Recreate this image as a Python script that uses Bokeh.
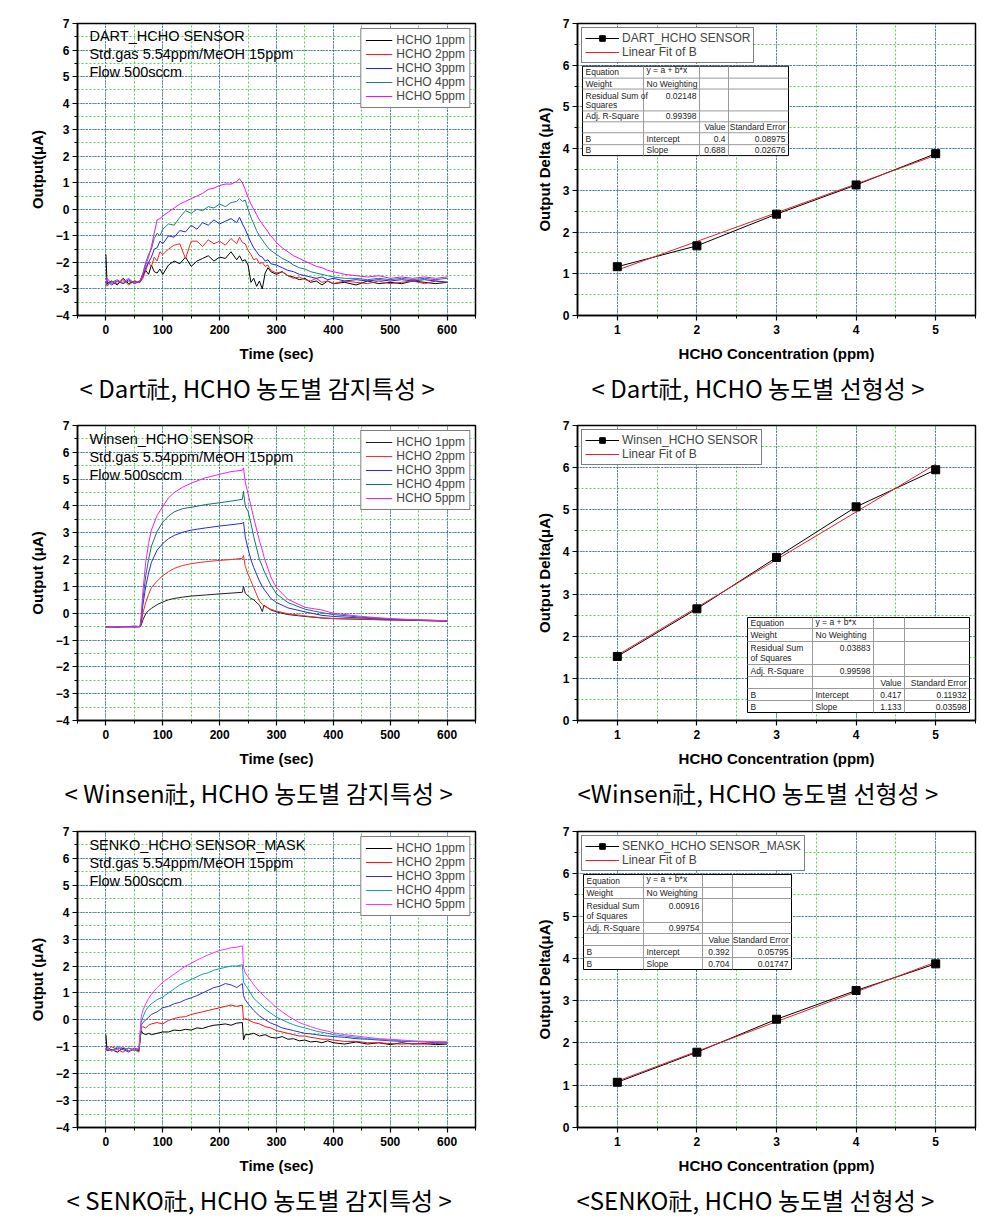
from bokeh.plotting import figure
from bokeh.models import Range1d, SingleIntervalTicker, Legend, LegendItem, Title, Label
from bokeh.layouts import row, column
from bokeh.embed import file_html
from bokeh.resources import INLINE
from bokeh.core.properties import value

# ----------------------------- data -----------------------------
series_labels = ["HCHO 1ppm", "HCHO 2ppm", "HCHO 3ppm", "HCHO 4ppm", "HCHO 5ppm"]

dart_t = [0, 2, 10, 20, 30, 40, 50, 60, 65, 70, 75, 80, 85, 90, 95, 100,
          110, 120, 130, 140, 150, 160, 170, 180, 190, 200, 210, 220, 230,
          235, 240, 245, 250, 255, 260, 265, 270, 275, 280, 285, 290,
          300, 310, 320, 330, 340, 350, 360, 370, 380, 390, 400,
          420, 440, 460, 480, 500, 520, 540, 560, 580, 600]
dart_1ppm = [-1.7, -2.8, -2.7, -2.85, -2.6, -2.8, -2.7, -2.75,
             -2.5, -2.3, -2.45, -2.1, -2.35, -2.4, -2.25, -2.45,
             -2.1, -1.95, -2.05, -1.8, -2.15, -1.95, -1.85, -1.75, -1.95, -1.8, -1.85, -1.6, -1.9,
             -1.75, -1.95, -1.9, -2.1, -2.75, -2.6, -2.9, -2.7, -3.0, -2.4, -2.2, -2.35,
             -2.45, -2.35, -2.5, -2.55, -2.65, -2.6, -2.75, -2.7, -2.85, -2.7, -2.8,
             -2.75, -2.85, -2.7, -2.8, -2.75, -2.8, -2.7, -2.75, -2.8, -2.75]
dart_2ppm = [-2.75, -2.9, -2.7, -2.8, -2.65, -2.85, -2.7, -2.75,
             -2.6, -2.3, -2.0, -2.15, -1.8, -1.95, -1.6, -1.7,
             -1.5, -1.35, -1.3, -1.85, -1.2, -1.2, -1.4, -1.15, -1.3, -1.2, -1.35, -1.1, -1.3,
             -1.05, -1.25, -1.3, -1.55, -1.7, -1.9, -1.85, -2.05, -2.0, -2.15, -2.1, -2.3,
             -2.4, -2.35, -2.5, -2.6, -2.55, -2.65, -2.7, -2.6, -2.75, -2.7, -2.8,
             -2.7, -2.75, -2.8, -2.7, -2.8, -2.75, -2.7, -2.8, -2.7, -2.75]
dart_3ppm = [-2.8, -2.7, -2.85, -2.7, -2.8, -2.65, -2.8, -2.7,
             -2.5, -2.2, -2.0, -1.8, -1.5, -1.45, -1.2, -1.3,
             -1.0, -1.05, -0.8, -0.85, -0.6, -0.75, -0.5, -0.6, -0.4, -0.55, -0.45, -0.35, -0.5,
             -0.3, -0.55, -0.75, -1.0, -1.25, -1.45, -1.6, -1.75, -1.8, -1.95, -1.9, -2.05,
             -2.1, -2.2, -2.3, -2.35, -2.45, -2.5, -2.55, -2.6, -2.55, -2.65, -2.6,
             -2.7, -2.65, -2.7, -2.65, -2.7, -2.65, -2.7, -2.65, -2.7, -2.75]
dart_4ppm = [-2.7, -2.85, -2.75, -2.65, -2.8, -2.7, -2.75, -2.7,
             -2.4, -2.0, -1.7, -1.5, -1.1, -0.9, -1.0, -0.75,
             -0.55, -0.6, -0.3, -0.05, -0.15, 0.0, -0.05, 0.1, 0.05, 0.2, 0.1, 0.25, 0.3,
             0.4, 0.3, 0.35, 0.0, -0.3, -0.55, -0.8, -1.0, -1.15, -1.3, -1.45, -1.55,
             -1.7, -1.85, -1.95, -2.1, -2.2, -2.25, -2.35, -2.4, -2.45, -2.5, -2.55,
             -2.6, -2.6, -2.65, -2.6, -2.65, -2.6, -2.65, -2.6, -2.65, -2.6]
dart_5ppm = [-2.75, -2.6, -2.8, -2.7, -2.75, -2.6, -2.8, -2.7,
             -2.45, -2.1, -1.8, -1.4, -0.9, -0.4, -0.35, -0.25,
             -0.1, 0.05, 0.2, 0.3, 0.4, 0.5, 0.6, 0.75, 0.8, 0.9, 0.95, 0.95, 1.05,
             1.15, 1.0, 0.75, 0.45, 0.2, 0.0, -0.2, -0.4, -0.55, -0.7, -0.85, -1.0,
             -1.25, -1.45, -1.6, -1.75, -1.85, -1.95, -2.05, -2.15, -2.2, -2.3, -2.35,
             -2.45, -2.5, -2.55, -2.5, -2.6, -2.55, -2.6, -2.55, -2.6, -2.55]

winsen_t = [0, 5, 10, 20, 30, 40, 50, 60,
            62, 65, 70, 75, 80, 90, 100, 110, 120, 135, 150, 175, 200, 220, 240,
            242, 245, 250, 255, 260, 270, 275, 278, 290, 300,
            320, 350, 380, 400, 450, 500, 550, 600]
winsen_1ppm = [-0.5, -0.52, -0.5, -0.52, -0.5, -0.5, -0.48, -0.5,
               -0.45, -0.25, -0.02, 0.1, 0.18, 0.32, 0.42, 0.5, 0.55, 0.6, 0.64, 0.68, 0.72, 0.75, 0.78,
               1.0, 0.75, 0.65, 0.55, 0.5, 0.3, 0.06, 0.3, 0.12, 0.05,
               -0.05, -0.12, -0.18, -0.2, -0.23, -0.25, -0.27, -0.3]
winsen_2ppm = [-0.52, -0.5, -0.5, -0.5, -0.52, -0.5, -0.5, -0.5,
               -0.4, 0.0, 0.4, 0.7, 0.95, 1.2, 1.4, 1.55, 1.67, 1.78, 1.85, 1.92, 1.97, 2.0, 2.05,
               2.15, 1.75, 1.45, 1.2, 0.95, 0.45, 0.33, 0.27, 0.15, 0.08,
               -0.02, -0.1, -0.17, -0.2, -0.22, -0.25, -0.27, -0.3]
winsen_3ppm = [-0.5, -0.5, -0.52, -0.5, -0.5, -0.5, -0.52, -0.5,
               -0.3, 0.3, 1.0, 1.5, 1.9, 2.35, 2.6, 2.78, 2.9, 3.02, 3.1, 3.18, 3.25, 3.3, 3.35,
               3.4, 2.85, 2.4, 2.0, 1.7, 1.2, 1.0, 0.9, 0.55, 0.4,
               0.2, 0.05, -0.08, -0.12, -0.18, -0.23, -0.26, -0.28]
winsen_4ppm = [-0.5, -0.5, -0.5, -0.52, -0.5, -0.5, -0.5, -0.5,
               -0.2, 0.5, 1.4, 2.0, 2.5, 3.05, 3.4, 3.62, 3.78, 3.9, 3.95, 4.05, 4.12, 4.18, 4.25,
               4.55, 4.0, 3.8, 3.35, 2.85, 2.0, 1.75, 1.58, 1.05, 0.72,
               0.4, 0.15, 0.02, -0.05, -0.15, -0.22, -0.25, -0.28]
winsen_5ppm = [-0.52, -0.5, -0.5, -0.5, -0.5, -0.52, -0.5, -0.5,
               -0.1, 0.8, 1.9, 2.6, 3.1, 3.65, 3.98, 4.3, 4.5, 4.7, 4.85, 5.05, 5.18, 5.28, 5.33,
               5.42, 4.9, 4.45, 4.0, 3.55, 2.7, 2.35, 2.1, 1.35, 0.95,
               0.52, 0.22, 0.12, 0.0, -0.12, -0.2, -0.25, -0.28]

senko_t = [0, 2, 10, 20, 30, 40, 50, 58,
           62, 65, 70, 75, 80,
           90, 100, 110, 120, 130, 140, 150, 160, 170, 180, 190, 200, 210, 220, 230, 240,
           242, 245, 250,
           260, 270, 280, 290, 300, 310, 320, 330, 340, 350, 360, 370, 380, 390, 400,
           420, 440, 460, 480, 500, 520, 540, 560, 580, 600]
senko_1ppm = [-0.55, -1.15, -1.1, -1.2, -1.05, -1.15, -1.1, -1.15,
              -0.4, -0.5, -0.55, -0.5, -0.55,
              -0.5, -0.45, -0.45, -0.38, -0.4, -0.35, -0.38, -0.3, -0.32, -0.25, -0.2, -0.18, -0.15, -0.2, -0.12, -0.1,
              -0.75, -0.55, -0.55,
              -0.5, -0.6, -0.55, -0.65, -0.68, -0.62, -0.72, -0.7, -0.78, -0.75, -0.82, -0.8, -0.85, -0.78, -0.85,
              -0.9, -0.82, -0.9, -0.85, -0.92, -0.85, -0.9, -0.88, -0.92, -0.9]
senko_2ppm = [-1.05, -1.15, -1.0, -1.1, -1.2, -1.05, -1.1, -1.2,
              -0.3, -0.25, -0.3, -0.2, -0.15,
              -0.1, -0.15, -0.02, 0.05, 0.1, 0.12, 0.2, 0.25, 0.3, 0.35, 0.4, 0.45, 0.5, 0.55, 0.5, 0.55,
              0.0, 0.05, 0.0,
              -0.1, -0.15, -0.25, -0.3, -0.4, -0.45, -0.5, -0.55, -0.6, -0.6, -0.65, -0.68, -0.72, -0.72, -0.75,
              -0.8, -0.8, -0.85, -0.85, -0.88, -0.9, -0.88, -0.9, -0.88, -0.85]
senko_3ppm = [-1.1, -1.0, -1.15, -1.05, -1.1, -1.2, -1.05, -1.1,
              -0.2, -0.1, 0.0, 0.1, 0.2,
              0.3, 0.45, 0.5, 0.6, 0.65, 0.75, 0.82, 0.9, 1.0, 1.1, 1.2, 1.25, 1.35, 1.3, 1.2, 1.35,
              0.9, 0.75, 0.6,
              0.35, 0.15, 0.0, -0.12, -0.2, -0.3, -0.35, -0.4, -0.45, -0.5, -0.52, -0.55, -0.58, -0.6, -0.62,
              -0.65, -0.7, -0.72, -0.75, -0.78, -0.8, -0.8, -0.82, -0.85, -0.85]
senko_4ppm = [-1.05, -1.1, -1.15, -1.0, -1.1, -1.05, -1.15, -1.1,
              -0.1, 0.1, 0.35, 0.5, 0.6,
              0.75, 0.85, 1.0, 1.15, 1.3, 1.4, 1.5, 1.6, 1.7, 1.75, 1.85, 1.9, 1.95, 2.0, 2.0, 2.05,
              1.4, 1.3, 1.15,
              0.8, 0.6, 0.4, 0.25, 0.1, 0.0, -0.1, -0.18, -0.25, -0.3, -0.36, -0.42, -0.46, -0.5, -0.55,
              -0.6, -0.65, -0.7, -0.72, -0.75, -0.78, -0.8, -0.8, -0.82, -0.82]
senko_5ppm = [-1.1, -1.05, -1.15, -1.1, -1.0, -1.15, -1.1, -1.05,
              0.1, 0.35, 0.6, 0.8, 0.95,
              1.2, 1.4, 1.55, 1.7, 1.85, 2.0, 2.1, 2.22, 2.32, 2.42, 2.5, 2.58, 2.62, 2.68, 2.7, 2.75,
              1.95, 1.75, 1.6,
              1.3, 1.05, 0.85, 0.65, 0.45, 0.3, 0.15, 0.02, -0.1, -0.18, -0.25, -0.32, -0.38, -0.42, -0.48,
              -0.55, -0.6, -0.65, -0.7, -0.72, -0.75, -0.78, -0.8, -0.8, -0.82]

conc = [1, 2, 3, 4, 5]
dart_delta = [1.17, 1.67, 2.43, 3.13, 3.88]
winsen_delta = [1.52, 2.65, 3.87, 5.07, 5.95]
senko_delta = [1.07, 1.78, 2.56, 3.24, 3.87]

dart_intercept, dart_slope = 0.4, 0.688
winsen_intercept, winsen_slope = 0.417, 1.133
senko_intercept, senko_slope = 0.392, 0.704

# fit statistics: RSS, Adj R-Square, intercept, intercept SE, slope, slope SE
dart_stats = ["0.02148", "0.99398", "0.4", "0.08975", "0.688", "0.02676"]
winsen_stats = ["0.03883", "0.99598", "0.417", "0.11932", "1.133", "0.03598"]
senko_stats = ["0.00916", "0.99754", "0.392", "0.05795", "0.704", "0.01747"]

captions = ["< Dart社, HCHO 농도별 감지특성 >", "< Dart社, HCHO 농도별 선형성 >",
            "< Winsen社, HCHO 농도별 감지특성 >", "<Winsen社, HCHO 농도별 선형성 >",
            "< SENKO社, HCHO 농도별 감지특성 >", "<SENKO社, HCHO 농도별 선형성 >"]

# ----------------------------- layout constants -----------------------------
W = 499
FW = 398
ROW_H = [411, 407, 407]
ROW_TOP = [23, 14, 13]
ROW_FH = [294, 295, 296]
FONT = "Liberation Sans"
CAP_FONT = "Noto Sans CJK KR"


def base_figure(xr, yr, ri, left_border, xint, yint):
    fh = ROW_FH[ri]
    top = ROW_TOP[ri]
    h = ROW_H[ri]
    p = figure(width=W, height=h, x_range=Range1d(*xr), y_range=Range1d(*yr),
               output_backend="svg", toolbar_location=None,
               min_border_left=left_border, min_border_right=W - left_border - FW,
               min_border_top=top, min_border_bottom=h - top - fh)
    xt = SingleIntervalTicker(interval=xint, num_minor_ticks=2)
    yt = SingleIntervalTicker(interval=yint, num_minor_ticks=2)
    p.xaxis.ticker = xt
    p.yaxis.ticker = yt
    p.xgrid.ticker = xt
    p.ygrid.ticker = yt
    for g in (p.xgrid, p.ygrid):
        g.grid_line_color = "#2020c8"
        g.grid_line_dash = "1 2"
        g.grid_line_width = 1
        g.minor_grid_line_color = "#5ad25a"
        g.minor_grid_line_dash = "2 2"
        g.minor_grid_line_width = 1
    p.outline_line_color = "black"
    p.outline_line_width = 1.5
    p.background_fill_color = "white"
    p.border_fill_color = "white"
    for ax in (p.xaxis, p.yaxis):
        ax.axis_line_width = 1.5
        ax.axis_line_color = "black"
        ax.major_tick_out = 5
        ax.major_tick_in = 0
        ax.minor_tick_out = 3
        ax.minor_tick_in = 0
        ax.major_tick_line_width = 1.2
        ax.major_label_text_font = FONT
        ax.major_label_text_font_style = "bold"
        ax.major_label_text_font_size = "12px"
        ax.major_label_text_color = "black"
        ax.axis_label_text_font = FONT
        ax.axis_label_text_font_style = "bold"
        ax.axis_label_text_font_size = "15px"
        ax.axis_label_text_color = "black"
    p.xaxis.major_label_standoff = 4
    p.xaxis.axis_label_standoff = 8
    p.yaxis.major_label_standoff = 3
    p.yaxis.axis_label_standoff = 7
    return p


def add_caption(p, text, offset):
    p.add_layout(Title(text=text, align="left", offset=offset, vertical_align="top",
                       text_font=CAP_FONT, text_font_size="24px",
                       text_font_style="normal", text_color="black", standoff=10), "below")


def time_panel(ri, t, ys, colors, notes, ylabel, caption, cap_offset):
    p = base_figure((-50, 650), (-4, 7), ri, 77, 100, 1)
    p.xaxis.axis_label = "Time (sec)"
    p.yaxis.axis_label = ylabel
    items = []
    for y, c, lab in zip(ys, colors, series_labels):
        r = p.line(t, y, line_color=c, line_width=1)
        items.append(LegendItem(label=lab, renderers=[r]))
    leg = Legend(items=items, location="top_right", margin=5, padding=4, spacing=0,
                 label_text_font=FONT, label_text_font_size="12px", label_height=14,
                 glyph_height=14, glyph_width=27, label_standoff=4,
                 border_line_color="black", border_line_width=1,
                 background_fill_color="white", background_fill_alpha=1.0)
    p.add_layout(leg)
    fh = ROW_FH[ri]
    for i, line in enumerate(notes):
        py = 13 + 18 * i
        yv = 7 - py / fh * 11
        p.add_layout(Label(x=-29, y=yv, text=line, text_font=FONT, text_font_size="14.5px",
                           text_baseline="middle", text_color="black"))
    add_caption(p, caption, cap_offset)
    return p


def draw_table(p, ri, cols, rows, stats, rss_lines):
    fh = ROW_FH[ri]
    x0, x1 = p.x_range.start, p.x_range.end
    y0, y1 = p.y_range.start, p.y_range.end
    X = lambda px: x0 + px / FW * (x1 - x0)
    Y = lambda py: y1 - py / fh * (y1 - y0)
    p.quad(left=[X(cols[0])], right=[X(cols[-1])], top=[Y(rows[0])], bottom=[Y(rows[-1])],
           fill_color="white", line_color="black", line_width=1)
    hx0, hx1, hy = [], [], []
    for r in rows[1:-1]:
        hx0.append(X(cols[0])); hx1.append(X(cols[-1])); hy.append(Y(r))
    p.segment(x0=hx0, y0=hy, x1=hx1, y1=hy, line_color="#9a9a9a", line_width=1)
    vx = [X(c) for c in cols[1:-1]]
    p.segment(x0=vx, y0=[Y(rows[0])] * 3, x1=vx, y1=[Y(rows[-1])] * 3,
              line_color="#9a9a9a", line_width=1)
    mid = lambda i: Y((rows[i] + rows[i + 1]) / 2)
    lx, ly, lt = [], [], []
    rx, ry, rt = [], [], []

    def L(col, yv, txt):
        lx.append(X(cols[col] + 3)); ly.append(yv); lt.append(txt)

    def R(col, yv, txt):
        rx.append(X(cols[col + 1] - 3)); ry.append(yv); rt.append(txt)

    L(0, mid(0), "Equation"); L(1, Y(rows[0] + 4), "y = a + b*x")
    L(0, mid(1), "Weight"); L(1, mid(1), "No Weighting")
    h2 = rows[3] - rows[2]
    L(0, Y(rows[2] + h2 * 0.3), rss_lines[0]); L(0, Y(rows[2] + h2 * 0.72), rss_lines[1])
    R(1, Y(rows[2] + h2 * 0.3), stats[0])
    L(0, mid(3), "Adj. R-Square"); R(1, mid(3), stats[1])
    R(2, mid(4), "Value"); R(3, mid(4), "Standard Error")
    L(0, mid(5), "B"); L(1, mid(5), "Intercept"); R(2, mid(5), stats[2]); R(3, mid(5), stats[3])
    L(0, mid(6), "B"); L(1, mid(6), "Slope"); R(2, mid(6), stats[4]); R(3, mid(6), stats[5])
    p.text(x=lx, y=ly, text=lt, text_font=value(FONT), text_font_size=value("8.5px"),
           text_align="left", text_baseline="middle", text_color="#222222")
    p.text(x=rx, y=ry, text=rt, text_font=value(FONT), text_font_size=value("8.5px"),
           text_align="right", text_baseline="middle", text_color="#222222")


def linear_panel(ri, delta, a, b, name, ylabel, caption, cap_offset, cols, rows, stats, rss_lines):
    p = base_figure((0.5, 5.5), (0, 7), ri, 78, 1, 1)
    p.xaxis.axis_label = "HCHO Concentration (ppm)"
    p.yaxis.axis_label = ylabel
    fit_y = [a + b * x for x in conc]
    draw_table(p, ri, cols, rows, stats, rss_lines)
    r_line = p.line(conc, delta, line_color="black", line_width=1)
    r_fit = p.line(conc, fit_y, line_color="#e8202a", line_width=1)
    r_pts = p.scatter(conc, delta, marker="square", size=8, color="black")
    leg = Legend(items=[LegendItem(label=name, renderers=[r_line, r_pts]),
                        LegendItem(label="Linear Fit of B", renderers=[r_fit])],
                 location="top_left", margin=4, padding=3, spacing=0,
                 label_text_font=FONT, label_text_font_size="12px", label_height=14,
                 glyph_height=14, glyph_width=34, label_standoff=3,
                 border_line_color="black", border_line_width=1,
                 background_fill_color="white", background_fill_alpha=1.0)
    p.add_layout(leg)
    add_caption(p, caption, cap_offset)
    return p


notes_std = ["Std.gas 5.54ppm/MeOH 15ppm", "Flow 500sccm"]

p1 = time_panel(0, dart_t, [dart_1ppm, dart_2ppm, dart_3ppm, dart_4ppm, dart_5ppm],
                ["#000000", "#ff2020", "#2222ee", "#1a8080", "#f010f0"],
                ["DART_HCHO SENSOR"] + notes_std, "Output(μA)", captions[0], 2)
p2 = linear_panel(0, dart_delta, dart_intercept, dart_slope, "DART_HCHO SENSOR",
                  "Output Delta (μA)", captions[1], 14,
                  [5, 66, 122, 151, 211], [43, 55, 66, 88, 99, 110, 122, 133],
                  dart_stats, ["Residual Sum of", "Squares"])
p3 = time_panel(1, winsen_t, [winsen_1ppm, winsen_2ppm, winsen_3ppm, winsen_4ppm, winsen_5ppm],
                ["#202020", "#ff2a2a", "#2a2ae0", "#157070", "#f020f0"],
                ["Winsen_HCHO SENSOR"] + notes_std, "Output (μA)", captions[2], -13)
p4 = linear_panel(1, winsen_delta, winsen_intercept, winsen_slope, "Winsen_HCHO SENSOR",
                  "Output Delta(μA)", captions[3], 0,
                  [170, 235, 296, 327, 392], [192, 203, 216, 239, 251, 263, 275, 287],
                  winsen_stats, ["Residual Sum", "of Squares"])
p5 = time_panel(2, senko_t, [senko_1ppm, senko_2ppm, senko_3ppm, senko_4ppm, senko_5ppm],
                ["#000000", "#ff1010", "#3030e0", "#10a0a8", "#ff30ff"],
                ["SENKO_HCHO SENSOR_MASK"] + notes_std, "Output (μA)", captions[4], -11)
p6 = linear_panel(2, senko_delta, senko_intercept, senko_slope, "SENKO_HCHO SENSOR_MASK",
                  "Output Delta(μA)", captions[5], -1,
                  [6, 66, 125, 155, 214], [43, 56, 67, 91, 102, 114, 126, 138],
                  senko_stats, ["Residual Sum", "of Squares"])

layout = column(row(p1, p2), row(p3, p4), row(p5, p6))
open("out.html", "w").write(file_html(layout, INLINE))
